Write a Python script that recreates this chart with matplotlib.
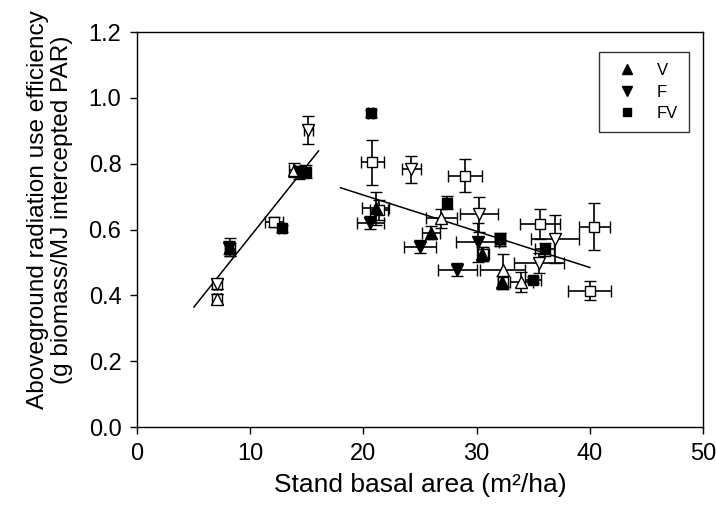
import matplotlib
matplotlib.use("Agg")
import matplotlib.pyplot as plt
from matplotlib.lines import Line2D

plt.rcParams['font.family'] = ['Liberation Sans', 'DejaVu Sans']

# ---- data: (x, y, xerr, yerr) per group ----
# filled symbols
v_fill_x    = [8.2, 21.1, 25.95, 30.5, 32.25]
v_fill_y    = [0.548, 0.665, 0.591, 0.526, 0.440]
v_fill_xerr = [0.3, 1.2, 0.8, 0.5, 0.4]
v_fill_yerr = [0.027, 0.05, 0.02, 0.02, 0.02]

f_fill_x    = [8.1, 14.35, 20.6, 25.0, 30.1, 28.3]
f_fill_y    = [0.545, 0.774, 0.621, 0.548, 0.561, 0.478]
f_fill_xerr = [0.3, 0.4, 1.2, 1.4, 1.9, 1.7]
f_fill_yerr = [0.02, 0.02, 0.02, 0.02, 0.06, 0.02]

fv_fill_x    = [12.8, 14.9, 20.65, 27.4, 32.05, 34.95, 36.0]
fv_fill_y    = [0.604, 0.776, 0.953, 0.682, 0.571, 0.447, 0.540]
fv_fill_xerr = [0.2, 0.4, 0.2, 0.3, 0.4, 0.7, 0.8]
fv_fill_yerr = [0.01, 0.02, 0.01, 0.02, 0.02, 0.01, 0.02]

# open symbols
v_open_x    = [7.1, 13.9, 26.9, 32.3, 33.95]
v_open_y    = [0.389, 0.781, 0.634, 0.476, 0.442]
v_open_xerr = [0.3, 0.5, 1.4, 2.0, 1.0]
v_open_yerr = [0.015, 0.02, 0.03, 0.05, 0.03]

f_open_x    = [7.1, 15.16, 24.25, 30.2, 35.5, 36.9]
f_open_y    = [0.434, 0.902, 0.783, 0.647, 0.498, 0.571]
f_open_xerr = [0.3, 0.4, 0.8, 1.7, 2.2, 2.1]
f_open_yerr = [0.015, 0.042, 0.042, 0.053, 0.03, 0.073]

fv_open_x    = [7.1, 7.1, 8.2, 12.1, 20.8, 21.4, 29.0, 30.6, 32.1, 32.3, 35.6, 40.4, 40.0]
fv_open_y    = [0.434, 0.389, 0.540, 0.624, 0.804, 0.660, 0.764, 0.526, 0.571, 0.440, 0.617, 0.609, 0.415]
fv_open_xerr = [0.3, 0.3, 0.3, 0.8, 1.0, 0.8, 1.5, 0.5, 0.4, 0.4, 1.8, 1.4, 1.9]
fv_open_yerr = [0.015, 0.015, 0.02, 0.015, 0.068, 0.03, 0.05, 0.02, 0.02, 0.02, 0.046, 0.071, 0.03]

# regression lines (end points)
fit_left_x  = [5.05, 16.05]
fit_left_y  = [0.365, 0.839]
fit_right_x = [18.0, 40.0]
fit_right_y = [0.727, 0.485]

xticks = [0, 10, 20, 30, 40, 50]
yticks = [0.0, 0.2, 0.4, 0.6, 0.8, 1.0, 1.2]

fig = plt.figure(figsize=(7.16, 5.08), dpi=100)
ax = fig.add_axes([0.191, 0.159, 0.791, 0.778])

ax.plot(fit_left_x, fit_left_y, color='black', lw=1.1, zorder=1)
ax.plot(fit_right_x, fit_right_y, color='black', lw=1.1, zorder=1)

ekw = dict(ecolor='black', elinewidth=1.2, capsize=4.5, capthick=1.2, ls='none', zorder=2)

groups = [
    (fv_open_x, fv_open_y, fv_open_xerr, fv_open_yerr, 's', 'white', 7.5),
    (v_open_x, v_open_y, v_open_xerr, v_open_yerr, '^', 'white', 8),
    (f_open_x, f_open_y, f_open_xerr, f_open_yerr, 'v', 'white', 8),
    (fv_fill_x, fv_fill_y, fv_fill_xerr, fv_fill_yerr, 's', 'black', 7),
    (v_fill_x, v_fill_y, v_fill_xerr, v_fill_yerr, '^', 'black', 8),
    (f_fill_x, f_fill_y, f_fill_xerr, f_fill_yerr, 'v', 'black', 8),
]
for x, y, xe, ye, m, fc, ms in groups:
    ax.errorbar(x, y, xerr=xe, yerr=ye, fmt=m, mfc=fc, mec='black',
                mew=1.0, ms=ms, **ekw)

ax.set_xlim(0, 50)
ax.set_ylim(0, 1.2)
ax.set_xticks(xticks)
ax.set_yticks(yticks)
ax.set_yticklabels([f"{t:.1f}" for t in yticks])
ax.tick_params(direction='out', length=5, width=1, labelsize=17, pad=6)
for s in ax.spines.values():
    s.set_linewidth(1.0)

ax.set_xlabel('Stand basal area (m²/ha)', fontsize=19, labelpad=6)
ax.set_ylabel('Aboveground radiation use efficiency\n(g biomass/MJ intercepted PAR)',
              fontsize=17.6, linespacing=1.12)
ax.yaxis.set_label_coords(-0.113, 0.55)

handles = [
    Line2D([], [], marker='^', color='black', ls='none', ms=7.5, label='V'),
    Line2D([], [], marker='v', color='black', ls='none', ms=7.5, label='F'),
    Line2D([], [], marker='s', color='black', ls='none', ms=6, label='FV'),
]
leg = ax.legend(handles=handles, loc='upper right', bbox_to_anchor=(0.975, 0.949),
                frameon=True, fancybox=False, edgecolor='black', fontsize=12,
                handlelength=2.0, handletextpad=0.8, borderpad=0.65, labelspacing=0.4,
                borderaxespad=0)
leg.get_frame().set_linewidth(1.0)

fig.savefig('out.png', dpi=100)
